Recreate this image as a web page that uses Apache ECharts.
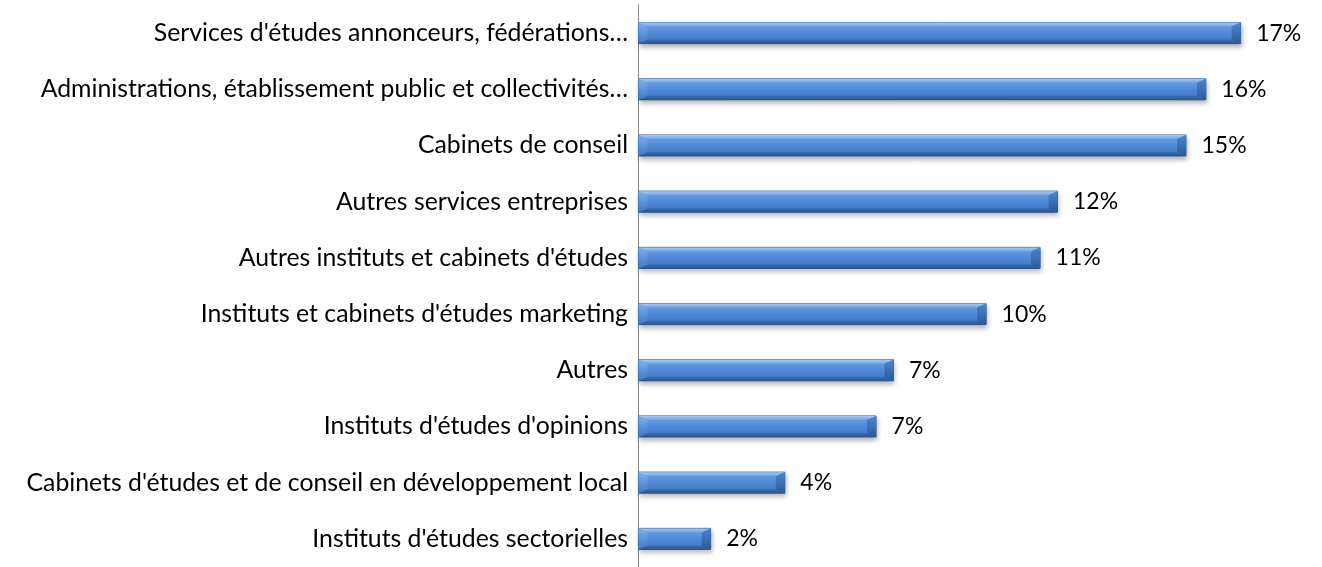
<!DOCTYPE html>
<html>
<head>
<meta charset="utf-8">
<script src="https://cdn.jsdelivr.net/npm/echarts@6/dist/echarts.min.js"></script>
<style>
html,body{margin:0;padding:0;background:#fff;}
#chart{width:1322px;height:567px;}
</style>
</head>
<body>
<div id="chart"></div>
<script>
const categories = [
  "Services d'études annonceurs, fédérations…",
  "Administrations, établissement public et collectivités…",
  "Cabinets de conseil",
  "Autres services entreprises",
  "Autres instituts et cabinets d'études",
  "Instituts et cabinets d'études marketing",
  "Autres",
  "Instituts d'études d'opinions",
  "Cabinets d'études et de conseil en développement local",
  "Instituts d'études sectorielles"
];
const values = [16.99, 16.01, 15.45, 11.83, 11.34, 9.82, 7.21, 6.72, 4.15, 2.06];

const FONT = 'Lato';
const BAR_H = 22;
const chart = echarts.init(document.getElementById('chart'), null, {renderer: 'canvas'});

function bevelItem(params, api) {
  const v = api.value(0), idx = api.value(1);
  const p0 = api.coord([0, idx]);
  const p1 = api.coord([v, idx]);
  const x0 = p0[0] + 0.5, x1 = p1[0] - 0.5;
  const y0 = p0[1] - BAR_H / 2 + 0.5, y1 = p0[1] + BAR_H / 2 - 0.5;
  const b = 4, e = 9;
  return {
    type: 'group',
    children: [
      { // top highlight strip
        type: 'polygon',
        shape: {points: [[x0, y0], [x1, y0], [x1 - e, y0 + b], [x0 + e, y0 + b]]},
        style: {fill: new echarts.graphic.LinearGradient(0, 0, 0, 1, [
          {offset: 0, color: '#a9caf3'}, {offset: 1, color: '#6ea3e8'}])}
      },
      { // bottom dark strip
        type: 'polygon',
        shape: {points: [[x0 + e, y1 - b], [x1 - e, y1 - b], [x1, y1], [x0, y1]]},
        style: {fill: new echarts.graphic.LinearGradient(0, 0, 0, 1, [
          {offset: 0, color: '#3a6fb8'}, {offset: 1, color: '#28538f'}])}
      },
      { // left bevel
        type: 'polygon',
        shape: {points: [[x0, y0], [x0 + e, y0 + b], [x0 + e, y1 - b], [x0, y1]]},
        style: {fill: new echarts.graphic.LinearGradient(0, 0, 0, 1, [
          {offset: 0, color: '#7fb0ee'}, {offset: 1, color: '#3f78c6'}])}
      },
      { // right bevel
        type: 'polygon',
        shape: {points: [[x1 - e, y0 + b], [x1, y0], [x1, y1], [x1 - e, y1 - b]]},
        style: {fill: new echarts.graphic.LinearGradient(0, 0, 0, 1, [
          {offset: 0, color: '#4d86d2'}, {offset: 1, color: '#2b5898'}])}
      }
    ]
  };
}

chart.setOption({
  animation: false,
  backgroundColor: '#ffffff',
  grid: {left: 638, right: 45, top: 5, height: 568, containLabel: false},
  xAxis: {
    type: 'value', min: 0, max: 18, show: false
  },
  yAxis: {
    type: 'category', data: categories, inverse: true,
    axisLine: {show: true, lineStyle: {color: '#868686', width: 1}},
    axisTick: {show: false},
    axisLabel: {color: '#000', fontFamily: FONT, fontSize: 24.8, margin: 10}
  },
  series: [{
    type: 'bar',
    data: values,
    barWidth: BAR_H,
    z: 2,
    itemStyle: {
      color: new echarts.graphic.LinearGradient(0, 0, 0, 1, [
        {offset: 0, color: '#7aaceb'},
        {offset: 0.5, color: '#4f8ad8'},
        {offset: 1, color: '#3a70bd'}
      ]),
      borderColor: '#2f5a92',
      borderWidth: 1,
      shadowColor: 'rgba(0,0,0,0.3)',
      shadowBlur: 5,
      shadowOffsetY: 3,
      shadowOffsetX: 1
    },
    label: {
      show: true, position: 'right', distance: 15,
      color: '#000', fontFamily: FONT, fontSize: 23,
      formatter: p => Math.round(p.value) + '%'
    }
  }, {
    type: 'custom',
    z: 3,
    silent: true,
    renderItem: bevelItem,
    encode: {x: 0, y: 1},
    data: values.map((v, i) => [v, i])
  }]
});
</script>
</body>
</html>
